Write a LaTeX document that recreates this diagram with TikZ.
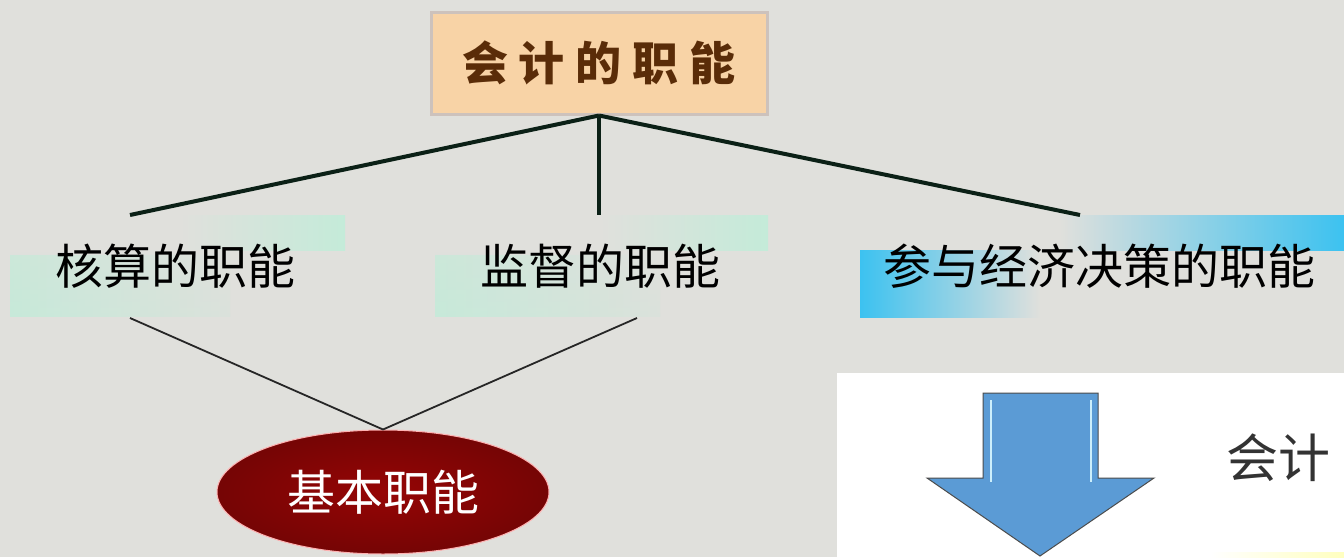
\documentclass[tikz,border=0pt]{standalone}
\usepackage{fontspec}
\newfontfamily\cjk{Noto Sans CJK SC}
\newfontfamily\cjkb{Noto Sans CJK SC Black}
\usetikzlibrary{shapes.geometric}
\definecolor{bg}{HTML}{E0E0DC}
\definecolor{mint}{HTML}{C4EBD9}
\definecolor{sky}{HTML}{3CC2F0}
\definecolor{peach}{HTML}{F8D3A6}
\definecolor{peachedge}{HTML}{CDC2BC}
\definecolor{brown}{HTML}{5A2C08}
\definecolor{linegreen}{HTML}{0B2016}
\definecolor{darkred}{HTML}{8A0606}
\definecolor{arrowblue}{HTML}{5B9BD5}
\tikzset{
  lbl/.style={font=\cjk\fontsize{48}{56}\selectfont, text=black, inner sep=0pt},
  thick conn/.style={draw=linegreen, line width=4pt},
  thin conn/.style={draw=black!85, line width=1.8pt},
}
\begin{document}
\begin{tikzpicture}[x=1pt,y=-1pt]
\useasboundingbox (0,0) rectangle (1344,557);
\fill[bg] (0,0) rectangle (1344,557);

% white panel bottom right
\fill[white] (837,373) rectangle (1344,557);
\shade[left color=white, right color=yellow!25] (1210,552) rectangle (1344,557);

% title box
\node[draw=peachedge, line width=3pt, fill=peach, minimum width=336pt, minimum height=102pt, inner sep=0pt,
      font=\cjkb\fontsize{46}{54}\selectfont, text=brown] (title) at (599,63)
  {会\hspace{11pt}计\hspace{11pt}的\hspace{11pt}职\hspace{11pt}能};

% gradient label backgrounds
\shade[left color=bg, right color=mint] (180,215) rectangle (345,250);
\shade[top color=bg, bottom color=mint, opacity=0.6] (10,250) rectangle (230,316);
\shade[left color=mint, right color=bg, opacity=0.7] (10,255) rectangle (230,316);
\shade[left color=bg, right color=mint] (600,215) rectangle (768,250);
\shade[top color=bg, bottom color=mint, opacity=0.6] (435,250) rectangle (660,316);
\shade[left color=mint, right color=bg, opacity=0.7] (435,255) rectangle (660,316);
\shade[left color=bg, right color=sky] (1060,215) rectangle (1344,250);
\shade[left color=sky, right color=bg] (860,250) rectangle (1040,317);

\node[lbl] (h) at (175,266) {核算的职能};
\node[lbl] (j) at (600,266) {监督的职能};
\node[lbl] (c) at (1099,266) {参与经济决策的职能};

\coordinate (hTop) at (130,215);
\coordinate (jTop) at (599,215);
\coordinate (cTop) at (1080,215);
\coordinate (hBot) at (130,318);
\coordinate (jBot) at (637,318);

\draw[thick conn] (title.south) -- (hTop);
\draw[thick conn] (title.south) -- (jTop);
\draw[thick conn] (title.south) -- (cTop);

% basic function ellipse
\node[ellipse, draw=red!30, line width=1pt, inner color=darkred!90!red, outer color=darkred!85!black,
      minimum width=332pt, minimum height=124pt, font=\cjk\fontsize{48}{56}\selectfont, text=white] (b) at (383,492) {基本职能};

\draw[thin conn] (hBot) -- (b.north);
\draw[thin conn] (jBot) -- (b.north);

% blue arrow
\draw[fill=arrowblue, draw=black!70, line width=1pt]
  (983,393) -- (1098,393) -- (1098,478) -- (1154,478) -- (1040,556) -- (927,478) -- (983,478) -- cycle;
\draw[cyan!20, line width=2pt] (991,400) -- (991,482);
\draw[cyan!20, line width=2pt] (1091,400) -- (1091,482);

\node[font=\cjk\fontsize{52}{60}\selectfont, text=black!80, inner sep=0pt, anchor=west] (kj) at (1226,458) {会计};
\end{tikzpicture}
\end{document}
